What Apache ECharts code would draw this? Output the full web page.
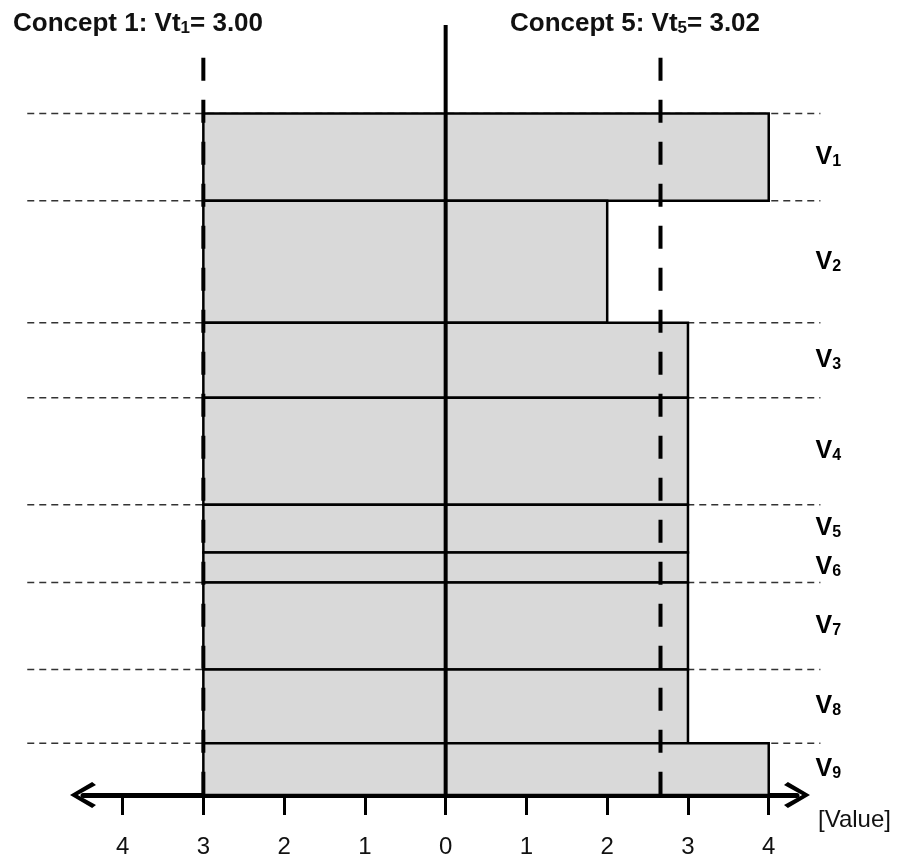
<!DOCTYPE html>
<html>
<head>
<meta charset="utf-8">
<script src="https://cdn.jsdelivr.net/npm/echarts@6/dist/echarts.min.js"></script>
<style>
  html, body { margin: 0; padding: 0; background: #fff; }
  #chart { width: 903px; height: 861px; }
</style>
</head>
<body>
<div id="chart"></div>
<script>
// rows V1..V9, top to bottom
const rowIndex = ['1', '2', '3', '4', '5', '6', '7', '8', '9'];
const rowWeights = [0.128, 0.179, 0.110, 0.157, 0.070, 0.044, 0.128, 0.108, 0.076];
const rowValues = [4, 2, 3, 3, 3, 3, 3, 3, 4];
const rowDashedTop = [1, 1, 1, 1, 1, 0, 1, 1, 1];
const barStart = -3;

// concept thresholds
const conceptNames = ['Concept 1: Vt', 'Concept 5: Vt'];
const conceptIndex = ['1', '5'];
const conceptScores = ['3.00', '3.02'];
const conceptLines = [-3, 2.66];

const xTicks = [-4, -3, -2, -1, 0, 1, 2, 3, 4];

const FONT = 'Liberation Sans, Arial, sans-serif';
const INK = '#111';
const CHEVRON = 'path://M50,0 L100,85 L88,100 L50,30 L12,100 L0,85 Z';

let tops = [];
let acc = 0;
rowWeights.forEach(w => { tops.push(acc); acc += w; });
const total = acc;

const barData = rowValues.map((v, i) => [barStart, v, tops[i], tops[i] + rowWeights[i]]);
const guideData = tops.filter((t, i) => rowDashedTop[i]).map(t => [t]);
const labelData = tops.map((t, i) => [t + rowWeights[i] / 2, i]);

const chart = echarts.init(document.getElementById('chart'));

const rich = (big, small) => ({
  b: { fontFamily: FONT, fontWeight: 'bold', fontSize: big, lineHeight: big, color: INK, verticalAlign: 'bottom' },
  s: { fontFamily: FONT, fontWeight: 'bold', fontSize: small, lineHeight: small, color: INK, verticalAlign: 'bottom' }
});

const option = {
  animation: false,
  title: conceptNames.map((n, i) => ({
    text: `{b|${n}}{s|${conceptIndex[i]}}{b|= ${conceptScores[i]}}`,
    left: i === 0 ? 13 : 510,
    top: 11,
    padding: 0,
    textStyle: { rich: rich(26, 17) }
  })),
  grid: { left: 83, right: 106, top: 25, bottom: 66 },
  xAxis: {
    type: 'value',
    min: -4.49,
    max: 4.35,
    name: '[Value]',
    nameLocation: 'end',
    nameGap: 21,
    nameTextStyle: { fontFamily: FONT, fontSize: 24, color: INK, verticalAlign: 'top', padding: [13, 0, 0, 0] },
    splitLine: { show: false },
    axisLine: {
      show: true,
      onZero: false,
      symbol: [CHEVRON, CHEVRON],
      symbolSize: [26, 27],
      lineStyle: { color: '#000', width: 5 }
    },
    axisTick: { show: true, length: 20, customValues: xTicks, lineStyle: { color: '#000', width: 3 } },
    axisLabel: {
      customValues: xTicks,
      margin: 40,
      fontFamily: FONT,
      fontSize: 24,
      color: INK,
      formatter: v => String(Math.abs(v))
    }
  },
  yAxis: {
    type: 'value',
    inverse: true,
    min: -0.13,
    max: total,
    show: false
  },
  series: [
    {
      type: 'custom',
      clip: false,
      data: guideData,
      renderItem: (params, api) => {
        const y = api.value(0);
        const a = api.coord([-5.18, y]);
        const b = api.coord([4.64, y]);
        return {
          type: 'line',
          shape: { x1: a[0], y1: a[1], x2: b[0], y2: b[1] },
          style: { stroke: '#333', lineWidth: 1.5, lineDash: [7, 5] }
        };
      }
    },
    {
      type: 'custom',
      clip: false,
      data: barData,
      encode: { x: [0, 1], y: [2, 3] },
      renderItem: (params, api) => {
        const p0 = api.coord([api.value(0), api.value(2)]);
        const p1 = api.coord([api.value(1), api.value(3)]);
        return {
          type: 'rect',
          shape: { x: p0[0], y: p0[1], width: p1[0] - p0[0], height: p1[1] - p0[1] },
          style: { fill: '#d9d9d9', stroke: '#000', lineWidth: 2.5 }
        };
      }
    },
    {
      type: 'custom',
      clip: false,
      data: conceptLines.map(v => [v]),
      renderItem: (params, api) => {
        const a = api.coord([api.value(0), -0.082]);
        const b = api.coord([api.value(0), total]);
        return {
          type: 'line',
          shape: { x1: a[0], y1: a[1], x2: b[0], y2: b[1] },
          style: { stroke: '#000', lineWidth: 4, lineDash: [23, 19] }
        };
      }
    },
    {
      type: 'custom',
      clip: false,
      data: [[0]],
      renderItem: (params, api) => {
        const a = api.coord([api.value(0), -0.13]);
        const b = api.coord([api.value(0), total]);
        return {
          type: 'line',
          shape: { x1: a[0], y1: a[1], x2: b[0], y2: b[1] },
          style: { stroke: '#000', lineWidth: 4 }
        };
      }
    },
    {
      type: 'custom',
      clip: false,
      data: labelData,
      renderItem: (params, api) => {
        const p = api.coord([4.58, api.value(0)]);
        const i = api.value(1);
        return {
          type: 'text',
          style: {
            text: `{b|V}{s|${rowIndex[i]}}`,
            x: p[0],
            y: p[1],
            align: 'left',
            verticalAlign: 'middle',
            rich: rich(25, 16)
          }
        };
      }
    }
  ]
};

chart.setOption(option);
</script>
</body>
</html>
